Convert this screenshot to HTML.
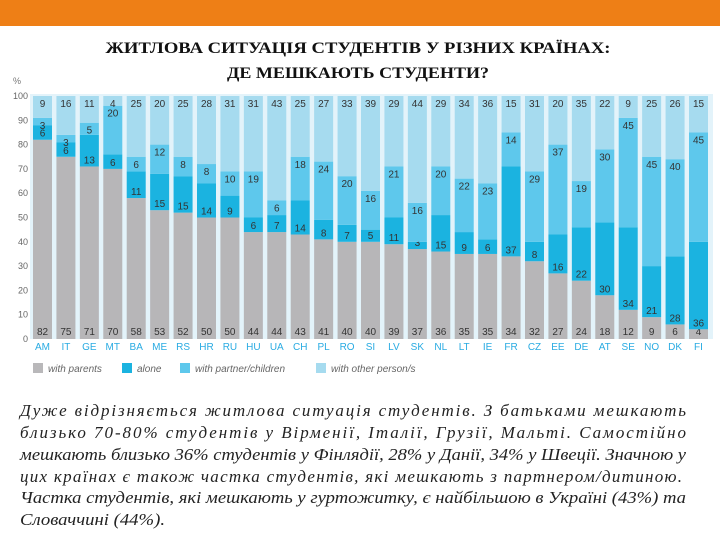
<!DOCTYPE html>
<html><head><meta charset="utf-8"><style>
body{margin:0;width:720px;height:540px;background:#fff;overflow:hidden}
svg{display:block}
</style></head><body>
<svg width="720" height="540" xmlns="http://www.w3.org/2000/svg">
<rect x="0" y="0" width="720" height="26" fill="#ee7f16"/>
<g font-family="'Liberation Serif',serif" font-weight="bold" font-size="16" fill="#111" text-anchor="middle">
<text x="358" y="53" textLength="505" lengthAdjust="spacingAndGlyphs">ЖИТЛОВА СИТУАЦІЯ СТУДЕНТІВ У РІЗНИХ КРАЇНАХ:</text>
<text x="358" y="78" textLength="262" lengthAdjust="spacingAndGlyphs">ДЕ МЕШКАЮТЬ СТУДЕНТИ?</text>
</g>
<text x="13" y="84" font-family="'Liberation Sans',sans-serif" font-size="9" fill="#777">%</text>
<g id="plot"></g>
<g font-family="'Liberation Sans',sans-serif" font-style="italic" font-size="10" fill="#666">
<g><rect x="33" y="363" width="10" height="10" fill="#b9b8ba"/><text x="48" y="372">with parents</text></g>
<g><rect x="122" y="363" width="10" height="10" fill="#1bb3e0"/><text x="137" y="372">alone</text></g>
<g><rect x="180" y="363" width="10" height="10" fill="#5ec8ec"/><text x="195" y="372">with partner/children</text></g>
<g><rect x="316" y="363" width="10" height="10" fill="#a6dbef"/><text x="331" y="372">with other person/s</text></g>
</g>
<g font-family="'Liberation Serif',serif" font-style="italic" font-size="17" fill="#222">
<text x="20" y="416" textLength="666" lengthAdjust="spacing">Дуже відрізняється житлова ситуація студентів. З батьками мешкають</text>
<text x="20" y="438" textLength="666" lengthAdjust="spacing">близько 70-80% студентів у Вірменії, Італії, Грузії, Мальті. Самостійно</text>
<text x="20" y="460" textLength="666" lengthAdjust="spacingAndGlyphs">мешкають близько 36% студентів у Фінлядії, 28% у Данії, 34% у Швеції. Значною у</text>
<text x="20" y="482" textLength="662" lengthAdjust="spacing">цих країнах є також частка студентів, які мешкають з партнером/дитиною.</text>
<text x="20" y="503" textLength="666" lengthAdjust="spacingAndGlyphs">Частка студентів, які мешкають у гуртожитку, є найбільшою в Україні (43%) та</text>
<text x="20" y="525" textLength="145" lengthAdjust="spacingAndGlyphs">Словаччині (44%).</text>
</g>
</svg>
<script>
const countries=["AM","IT","GE","MT","BA","ME","RS","HR","RU","HU","UA","CH","PL","RO","SI","LV","SK","NL","LT","IE","FR","CZ","EE","DE","AT","SE","NO","DK","FI"];
const parents=[82,75,71,70,58,53,52,50,50,44,44,43,41,40,40,39,37,36,35,35,34,32,27,24,18,12,9,6,4];
const alone=[6,6,13,6,11,15,15,14,9,6,7,14,8,7,5,11,3,15,9,6,37,8,16,22,30,34,21,28,36];
const partner=[3,3,5,20,6,12,8,8,10,19,6,18,24,20,16,21,16,20,22,23,14,29,37,19,30,45,45,40,45];
const other=[9,16,11,4,25,20,25,28,31,31,43,25,27,33,39,29,44,29,34,36,15,31,20,35,22,9,25,26,15];
const yTicks=[0,10,20,30,40,50,60,70,80,90,100];
const NS="http://www.w3.org/2000/svg";
const g=document.getElementById('plot');
const y0=339,y100=96;
function Y(v){return y0-(y0-y100)*v/100;}
const x0=42.5,pitch=(698.5-42.5)/(countries.length-1),bw=19;
function X(i){return x0+i*pitch;}
function mk(t,a,p){const e=document.createElementNS(NS,t);for(const k in a)e.setAttribute(k,a[k]);(p||g).appendChild(e);return e;}
const bg=mk('rect',{x:30,y:Y(100)-2,width:683,height:Y(0)-Y(100)+2,fill:'#e3f3fa'});


yTicks.forEach(t=>{const e=mk('text',{x:28,y:Y(t)+3,'text-anchor':'end','font-family':"'Liberation Sans',sans-serif",'font-size':9,fill:'#666'});e.textContent=t;

});
const series=[{d:parents,c:'#b7b6b8',n:'parents'},{d:alone,c:'#1bb3e0',n:'alone'},{d:partner,c:'#5ec8ec',n:'partner'},{d:other,c:'#a6dbef',n:'other'}];
countries.forEach((c,i)=>{
  let base=0;
  const cx=X(i);
  series.forEach((s,k)=>{
    const v=s.d[i];
    const r=mk('rect',{x:cx-bw/2,y:Y(base+v),width:bw,height:Y(base)-Y(base+v),fill:s.c});
    
    
    let ly;
    if(k===0) ly=Y(0)-4;
    else if(k===1) ly=Y(base)-3;
    else if(k===2) ly=Y(base+v)+11;
    else ly=Y(100)+11;
    const t=mk('text',{x:cx,y:ly,'text-anchor':'middle','font-family':"'Liberation Sans',sans-serif",'font-size':10,fill:'#333'});
    t.textContent=v;
    
    
    base+=v;
  });
  const l=mk('text',{x:cx,y:350,'text-anchor':'middle','font-family':"'Liberation Sans',sans-serif",'font-size':10,fill:'#29abe2'});
  l.textContent=c;
  
  
});
</script>
</body></html>
